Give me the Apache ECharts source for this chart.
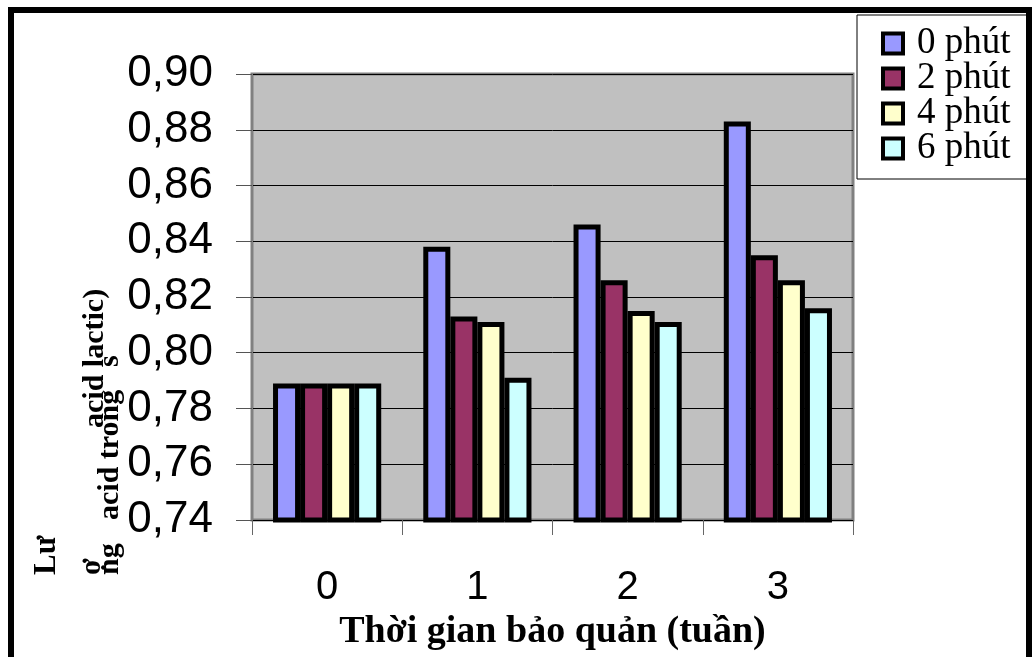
<!DOCTYPE html>
<html>
<head>
<meta charset="utf-8">
<script src="https://cdn.jsdelivr.net/npm/echarts@6/dist/echarts.min.js"></script>
<style>
html,body{margin:0;padding:0;background:#fff;}
#chart{width:1034px;height:657px;}
</style>
</head>
<body>
<div id="chart"></div>
<script>
const categories = ['0', '1', '2', '3'];
const seriesNames = ['0 phút', '2 phút', '4 phút', '6 phút'];
const s0 = [0.789, 0.838, 0.846, 0.883];
const s2 = [0.789, 0.813, 0.826, 0.835];
const s4 = [0.789, 0.811, 0.815, 0.826];
const s6 = [0.789, 0.791, 0.811, 0.816];
const colors = ['#9999FF', '#993366', '#FFFFCC', '#CCFFFF'];
const yMin = 0.74, yMax = 0.90, yStep = 0.02;

const chart = echarts.init(document.getElementById('chart'), null, {renderer: 'canvas'});
const values = [s0, s2, s4, s6];
const serif = '"Liberation Serif", "DejaVu Serif", serif';
const sans = '"Liberation Sans", Arial, sans-serif';

function vtext(x, y, text, size) {
  return { type: 'text', x: x, y: y, rotation: Math.PI / 2, z: 50,
    style: { text: text, font: 'bold ' + size + 'px ' + serif, fill: '#000', align: 'left', verticalAlign: 'middle' } };
}

chart.setOption({
  animation: false,
  backgroundColor: '#ffffff',
  grid: {
    left: 252, right: 181, top: 74, bottom: 137,
    show: true, backgroundColor: '#C0C0C0', borderColor: '#808080', borderWidth: 3
  },
  legend: {
    orient: 'vertical',
    left: 857, top: 15,
    backgroundColor: '#ffffff',
    borderColor: '#000', borderWidth: 1, borderRadius: 0,
    padding: [10, 16, 12, 24],
    itemGap: -2,
    itemWidth: 20, itemHeight: 20,
    icon: 'rect',
    itemStyle: { borderColor: '#000', borderWidth: 4 },
    textStyle: { fontFamily: serif, fontSize: 37, color: '#000', lineHeight: 33, padding: [0, 0, 0, 9] },
    data: seriesNames
  },
  xAxis: {
    type: 'category',
    data: categories,
    name: 'Thời gian bảo quản (tuần)',
    nameLocation: 'middle',
    nameGap: 86,
    nameTextStyle: { fontFamily: serif, fontWeight: 'bold', fontSize: 38, color: '#000' },
    axisLine: { lineStyle: { color: '#000', width: 1 } },
    axisTick: { show: true, length: 15, lineStyle: { color: '#666', width: 1 } },
    axisLabel: { fontFamily: sans, fontSize: 40, color: '#000', margin: 48 },
    splitLine: { show: false }
  },
  yAxis: {
    type: 'value',
    min: yMin, max: yMax, interval: yStep,
    axisLine: { show: true, lineStyle: { color: '#808080', width: 1 } },
    axisTick: { show: true, length: 16, lineStyle: { color: '#555', width: 1 } },
    axisLabel: {
      fontFamily: sans, fontSize: 44, color: '#000', margin: 39,
      formatter: v => v.toFixed(2).replace('.', ',')
    },
    splitLine: { show: true, lineStyle: { color: '#000', width: 1 } }
  },
  series: values.map((d, i) => ({
    name: seriesNames[i],
    type: 'bar',
    data: d,
    barGap: '0%',
    barCategoryGap: '28%',
    itemStyle: { color: colors[i], borderColor: '#000', borderWidth: 5 }
  })),
  graphic: [
    { type: 'rect', silent: true, z: 100,
      shape: { x: 11, y: 10, width: 1018, height: 700 },
      style: { fill: 'none', stroke: '#000', lineWidth: 6 } },
    vtext(47, 575, 'Lư', 31),
    vtext(92, 575, 'ợ', 30),
    vtext(110, 575, 'ng', 30),
    vtext(110, 520, 'acid trong', 30),
    vtext(110, 367, 's', 30),
    vtext(95, 428, 'acid lactic)', 30)
  ]
});
</script>
</body>
</html>
